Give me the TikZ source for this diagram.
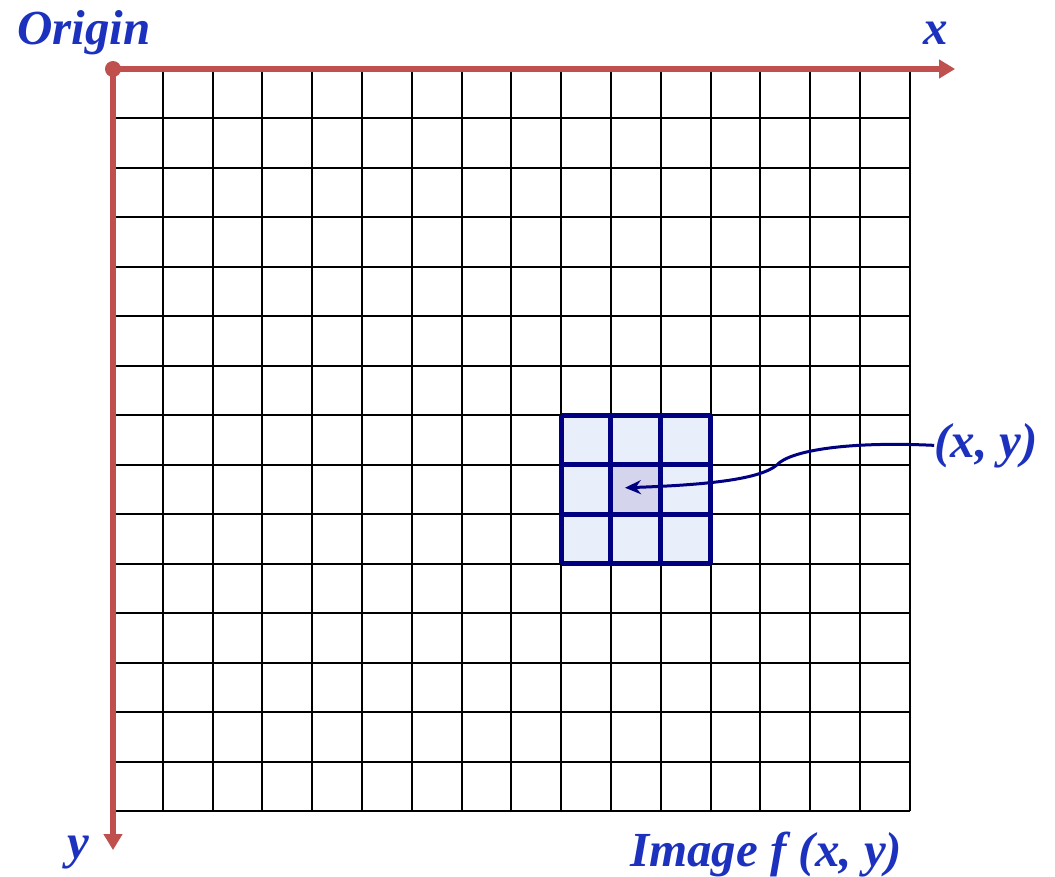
\documentclass[tikz,border=0pt]{standalone}
\usepackage{fontspec}
\setmainfont{Liberation Serif}
\usetikzlibrary{arrows.meta}
\definecolor{axisred}{RGB}{192,80,77}
\definecolor{labelblue}{RGB}{28,50,190}
\definecolor{blocknavy}{RGB}{0,0,128}
\definecolor{cellfill}{RGB}{232,238,250}
\definecolor{centerfill}{RGB}{212,212,236}
\begin{document}
\begin{tikzpicture}[x=49.8pt, y=-49.5pt,
    axisline/.style={line width=5.5pt, color=axisred, -{Triangle[length=16pt,width=18pt]}},
    gridline/.style={line width=2pt, black},
    blockline/.style={line width=5pt, blocknavy},
    lbl/.style={text=labelblue, font=\fontsize{49}{51}\selectfont\bfseries\itshape, inner sep=0pt}]
    \useasboundingbox (-2.269,-1.394) rectangle (18.916,16.323);
    % 1. pixel grid
    \foreach \i in {0,...,16} \draw[gridline] (\i,0) -- (\i,15);
    \foreach \j in {0,...,15} \draw[gridline] (0,\j) -- (16,\j);

    % 2. 3x3 neighbourhood
    \fill[cellfill] (9,7) rectangle (12,10);
    \fill[centerfill] (10,8) rectangle (11,9);
    \foreach \i in {9,...,12} \draw[blockline] (\i,7) -- (\i,10);
    \foreach \j in {7,...,10} \draw[blockline] (9,\j) -- (12,\j);

    % 3. axes
    \coordinate (origin) at (0,0);
    \coordinate (xtip) at (16.91,0);
    \coordinate (ytip) at (0,15.78);
    \draw[axisline] (origin) -- (xtip);
    \draw[axisline] (origin) -- (ytip);
    \fill[axisred] (origin) circle (8pt);

    % 4. labels
    \node[lbl, anchor=base west] (orig) at (-1.93,-0.485) {Origin};
    \node[lbl, anchor=base west] (xlab) at (16.27,-0.485) {x};
    \node[lbl, anchor=base west] (ylab) at (-0.92,15.94) {y};
    \node[lbl, anchor=base west] (img) at (10.38,16.12) {Image f (x, y)};
    \node[lbl, anchor=base west] (xy) at (16.49,7.84) {(x, y)};

    % 5. pointer to centre pixel
    \coordinate (pix) at (10.28,8.46);
    \draw[line width=3pt, blocknavy, -{Stealth[length=16pt,width=14pt]}]
        (xy.west) .. controls (14.8,7.52) and (13.6,7.7) .. (13.33,8.0)
        .. controls (13.0,8.28) and (12,8.4) .. (pix);
\end{tikzpicture}
\end{document}
